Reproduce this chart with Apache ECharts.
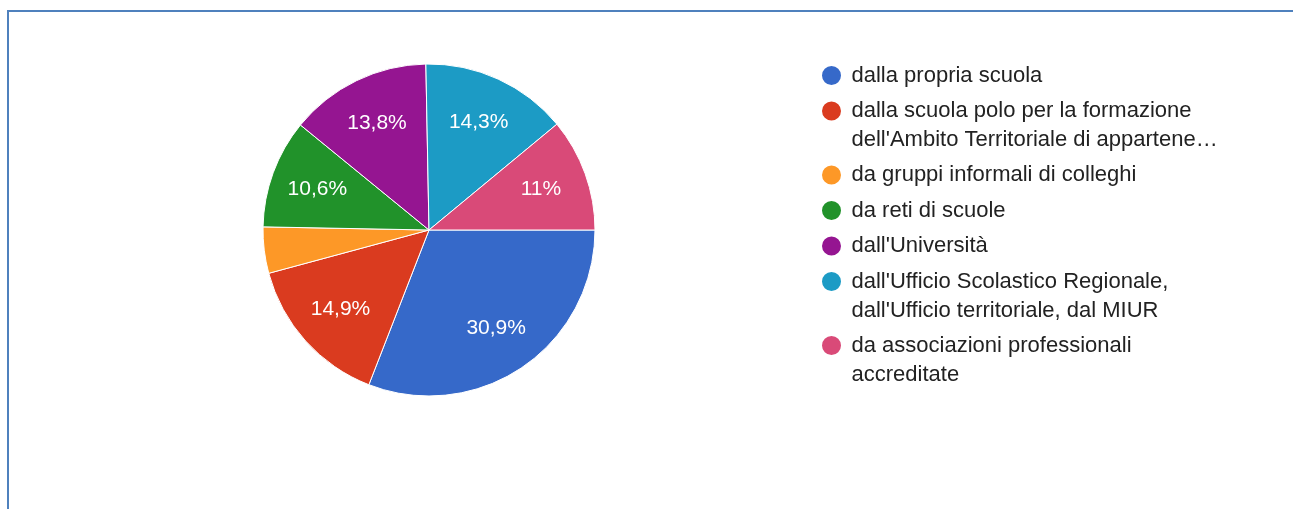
<!DOCTYPE html>
<html>
<head>
<meta charset="utf-8">
<style>
  html, body { margin: 0; padding: 0; background: #fff; overflow: hidden; }
  #chart { width: 1293px; height: 509px; }
  .frame {
    position: absolute; left: 7px; top: 10px; width: 1400px; height: 600px;
    border-top: 2px solid #4f81bd; border-left: 2px solid #4f81bd;
  }
</style>
<script src="https://cdn.jsdelivr.net/npm/echarts@6/dist/echarts.min.js"></script>
</head>
<body>
<div id="chart"></div>
<div class="frame"></div>
<script>
const categories = [
  'dalla propria scuola',
  "dalla scuola polo per la formazione\ndell'Ambito Territoriale di appartene…",
  'da gruppi informali di colleghi',
  'da reti di scuole',
  "dall'Università",
  "dall'Ufficio Scolastico Regionale,\ndall'Ufficio territoriale, dal MIUR",
  'da associazioni professionali\naccreditate'
];
const shares = [30.9, 14.9, 4.5, 10.6, 13.8, 14.3, 11.0];
const colors = ['#3669c9', '#da3b1f', '#fd9827', '#21922a', '#951591', '#1c9bc5', '#d94a78'];

const chart = echarts.init(document.getElementById('chart'));

const pieData = categories.map((name, i) => ({ name, value: shares[i] }));
const fmtPct = v => (v < 5 ? '' : String(v).replace('.', ',') + '%');
const FONT = 'Liberation Sans, Arial, sans-serif';

// legend text: first line of a two-line entry sits level with the dot
const legendText = name => {
  const lines = name.split('\n');
  if (lines.length === 1) return `{c|${name}}`;
  return `{a|${lines[0]}}\n{b|${lines[1]}}`;
};
const txt = { color: '#222', fontFamily: FONT, fontSize: 22 };

chart.setOption({
  animation: false,
  color: colors,
  legend: {
    orient: 'vertical',
    left: 820,
    top: 64,
    padding: 0,
    icon: 'circle',
    itemWidth: 30,
    itemHeight: 21,
    itemGap: 12.5,
    selectedMode: false,
    formatter: legendText,
    textStyle: {
      ...txt,
      rich: {
        a: { ...txt, lineHeight: 51, verticalAlign: 'bottom' },
        b: { ...txt, lineHeight: 29, verticalAlign: 'bottom' },
        c: { ...txt, lineHeight: 30 }
      }
    },
    data: categories
  },
  series: [
    {
      type: 'pie',
      center: [429, 230],
      radius: [0, 166],
      startAngle: 0,
      clockwise: true,
      silent: true,
      label: { show: false },
      labelLine: { show: false },
      itemStyle: { borderColor: '#fff', borderWidth: 1 },
      emphasis: { disabled: true },
      data: pieData
    },
    {
      // label ring: places slice labels at ~2/3 of the radius
      type: 'pie',
      center: [429, 230],
      radius: [66, 166],
      startAngle: 0,
      clockwise: true,
      silent: true,
      avoidLabelOverlap: false,
      itemStyle: { color: 'transparent', borderWidth: 0 },
      emphasis: { disabled: true },
      label: {
        show: true,
        position: 'inside',
        color: '#fff',
        fontFamily: FONT,
        fontSize: 21,
        formatter: p => fmtPct(p.value)
      },
      labelLine: { show: false },
      data: pieData
    }
  ]
});
</script>
</body>
</html>
